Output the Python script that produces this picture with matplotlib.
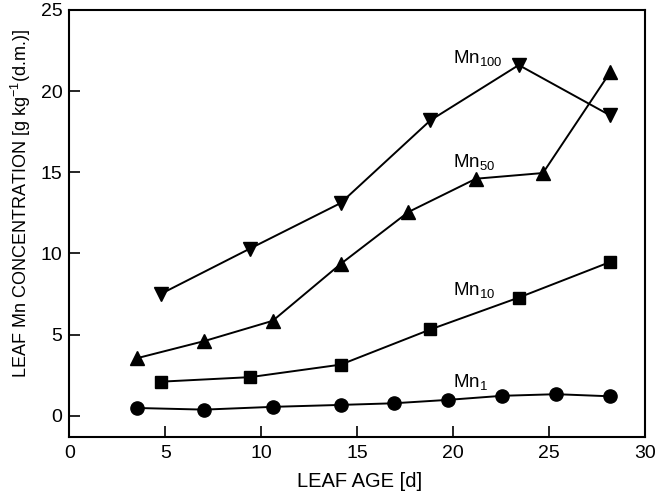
import matplotlib
matplotlib.use("Agg")
import matplotlib.pyplot as plt

plt.rcParams['font.family'] = ['Liberation Sans', 'DejaVu Sans']
plt.rcParams['mathtext.fontset'] = 'custom'
plt.rcParams['mathtext.rm'] = 'Liberation Sans'
plt.rcParams['mathtext.it'] = 'Liberation Sans'

# Data
mn100_x = [4.76, 9.42, 14.14, 18.82, 23.42, 28.18]
mn100_y = [7.5, 10.3, 13.1, 18.2, 21.6, 18.5]

mn50_x = [3.54, 7.03, 10.6, 14.14, 17.67, 21.19, 24.68, 28.18]
mn50_y = [3.55, 4.6, 5.85, 9.35, 12.55, 14.6, 14.95, 21.15]

mn10_x = [4.76, 9.42, 14.14, 18.82, 23.42, 28.18]
mn10_y = [2.1, 2.38, 3.15, 5.32, 7.28, 9.47]

mn1_x = [3.54, 7.03, 10.6, 14.14, 16.9, 19.73, 22.55, 25.38, 28.18]
mn1_y = [0.48, 0.38, 0.55, 0.67, 0.77, 0.98, 1.23, 1.33, 1.2]

series_labels = [r'Mn$_{100}$', r'Mn$_{50}$', r'Mn$_{10}$', r'Mn$_{1}$']
label_pos = [(20.0, 21.7), (20.0, 15.3), (20.0, 7.45), (20.0, 1.8)]

xticks = [0, 5, 10, 15, 20, 25, 30]
yticks = [0, 5, 10, 15, 20, 25]

fig = plt.figure(figsize=(6.58, 4.92), dpi=100)
ax = fig.add_axes([0.1053, 0.112, 0.875, 0.868])

lw = 1.4
ax.plot(mn100_x, mn100_y, color='black', lw=lw, marker='v', ms=10, zorder=3)
ax.plot(mn50_x, mn50_y, color='black', lw=lw, marker='^', ms=10, zorder=3)
ax.plot(mn10_x, mn10_y, color='black', lw=lw, marker='s', ms=8.5, zorder=3)
ax.plot(mn1_x, mn1_y, color='black', lw=lw, marker='o', ms=9.5, zorder=3)

for lab, (x, y) in zip(series_labels, label_pos):
    ax.text(x, y, lab, fontsize=13.5, ha='left', va='baseline')

ax.set_xlim(0, 30)
ax.set_ylim(-1.3, 25)
ax.set_xticks(xticks)
ax.set_yticks(yticks)
ax.tick_params(direction='in', length=8, width=1.2, labelsize=14,
               top=False, right=False)
ax.tick_params(axis='x', pad=6)
ax.tick_params(axis='y', pad=5)
for s in ax.spines.values():
    s.set_linewidth(1.5)

ax.set_xlabel('LEAF AGE [d]', fontsize=14.5)
ax.set_ylabel(r'LEAF Mn CONCENTRATION [g kg$^{-1}$(d.m.)]', fontsize=13)
ax.xaxis.set_label_coords(0.505, -0.082)
ax.yaxis.set_label_coords(-0.063, 0.546)

fig.savefig('out.png', dpi=100)
